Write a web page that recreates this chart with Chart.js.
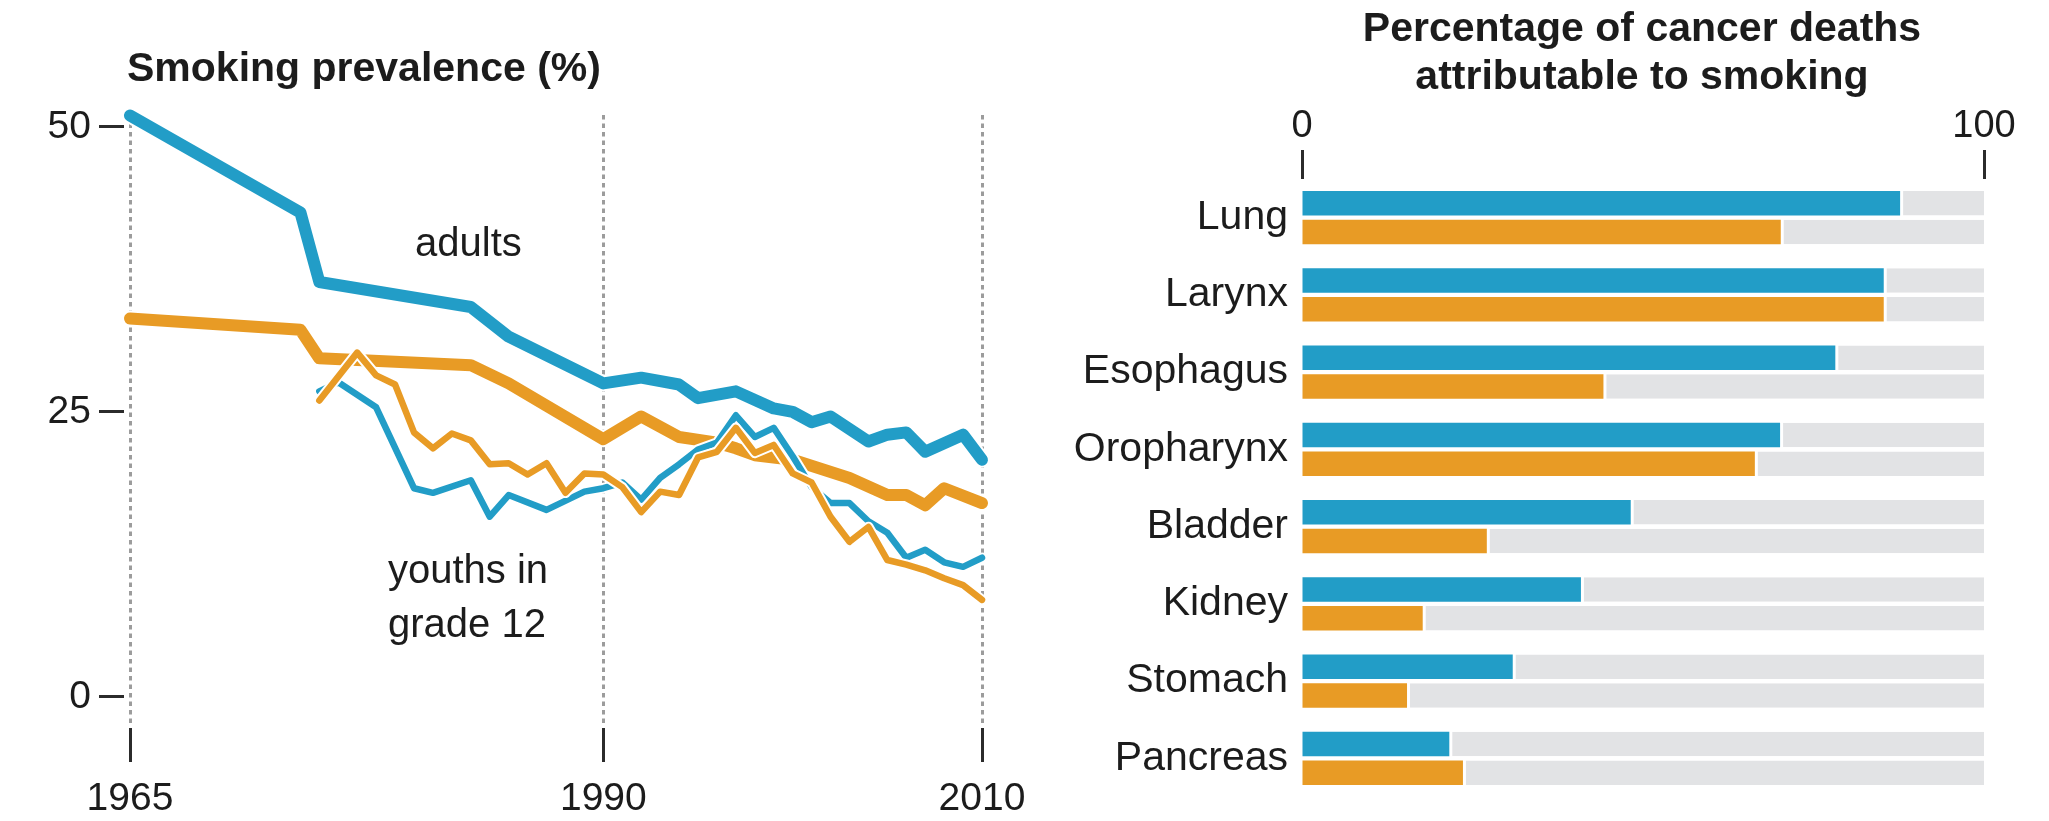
<!DOCTYPE html>
<html>
<head>
<meta charset="utf-8">
<script src="https://cdn.jsdelivr.net/npm/chart.js@4.4.1/dist/chart.umd.min.js"></script>
<style>
  html, body { margin: 0; padding: 0; background: #ffffff; }
  #wrap { position: relative; width: 2049px; height: 821px; overflow: hidden; }
  #left { position: absolute; left: 0; top: 0; width: 1040px; height: 821px; }
  #right { position: absolute; left: 1040px; top: 0; width: 1009px; height: 821px; }
</style>
</head>
<body>
<div id="wrap">
  <div id="left"><canvas id="trend"></canvas></div>
  <div id="right"><canvas id="share"></canvas></div>
</div>
<script>
// ---- Smoking prevalence (%) ----
const adultMenYears   = [1965, 1974, 1975, 1983, 1985, 1990, 1992, 1994, 1995, 1997, 1999, 2000, 2001, 2002, 2004, 2005, 2006, 2007, 2009, 2010];
const adultMenValues  = [51.0, 42.5, 36.4, 34.2, 31.6, 27.5, 28.0, 27.4, 26.2, 26.8, 25.3, 25.0, 24.1, 24.6, 22.4, 23.0, 23.2, 21.5, 23.0, 20.8];

const adultWomenYears  = [1965, 1974, 1975, 1983, 1985, 1990, 1992, 1994, 1996, 1997, 1998, 2000, 2003, 2005, 2006, 2007, 2008, 2010];
const adultWomenValues = [33.2, 32.2, 29.7, 29.1, 27.5, 22.6, 24.6, 22.8, 22.3, 21.8, 21.2, 20.8, 19.2, 17.7, 17.7, 16.8, 18.3, 17.0];

const youthMenYears  = [1975, 1976, 1978, 1980, 1981, 1983, 1984, 1985, 1987, 1989, 1990, 1991, 1992, 1993, 1994, 1995, 1996, 1997, 1998, 1999, 2000, 2001, 2002, 2003, 2004, 2005, 2006, 2007, 2008, 2009, 2010];
const youthMenValues = [26.8, 27.6, 25.4, 18.3, 17.9, 19.0, 15.8, 17.7, 16.4, 18.0, 18.3, 18.8, 17.3, 19.2, 20.4, 21.7, 22.3, 24.7, 22.8, 23.6, 21.1, 18.4, 17.0, 17.0, 15.4, 14.4, 12.2, 12.9, 11.8, 11.4, 12.2];

const youthWomenYears  = [1975, 1977, 1978, 1979, 1980, 1981, 1982, 1983, 1984, 1985, 1986, 1987, 1988, 1989, 1990, 1991, 1992, 1993, 1994, 1995, 1996, 1997, 1998, 1999, 2000, 2001, 2002, 2003, 2004, 2005, 2006, 2007, 2008, 2009, 2010];
const youthWomenValues = [26.0, 30.2, 28.2, 27.4, 23.2, 21.8, 23.1, 22.5, 20.4, 20.5, 19.5, 20.5, 17.9, 19.6, 19.5, 18.4, 16.2, 18.0, 17.7, 21.0, 21.5, 23.6, 21.4, 22.1, 19.6, 18.8, 15.8, 13.6, 14.9, 12.0, 11.6, 11.1, 10.4, 9.8, 8.5];

const yearTicks       = [1965, 1990, 2010];
const prevalenceTicks = [0, 25, 50];

// ---- Cancer deaths attributable to smoking (%) ----
const cancerSites  = ['Lung', 'Larynx', 'Esophagus', 'Oropharynx', 'Bladder', 'Kidney', 'Stomach', 'Pancreas'];
const menShare     = [87.7, 85.3, 78.2, 70.1, 48.2, 40.9, 30.9, 21.6];
const womenShare   = [70.2, 85.3, 44.2, 66.4, 27.1, 17.7, 15.4, 23.6];
const shareTicks   = [0, 100];

const BLUE   = '#229dc7';
const ORANGE = '#e89b25';
const TRACK  = '#e2e3e5';
const INK    = '#1c1c1c';
const TICK   = '#2b2b2b';
const FONT   = "'Liberation Sans', Arial, Helvetica, sans-serif";

// Free-standing text (titles and line labels) drawn on top of the chart
const captions = {
  id: 'captions',
  afterDraw(chart, args, opts) {
    const ctx = chart.ctx;
    ctx.save();
    ctx.fillStyle = INK;
    ctx.textBaseline = 'alphabetic';
    for (const it of (opts.items || [])) {
      ctx.font = it.font;
      ctx.textAlign = it.align || 'left';
      ctx.fillText(it.text, it.x, it.y);
    }
    ctx.restore();
  }
};

const pairs = (xs, ys) => xs.map((x, i) => ({ x, y: ys[i] }));

// Each series is drawn as a white halo underneath a coloured stroke
function lineSet(label, xs, ys, color, width, order) {
  return [
    { label: label + ' halo', data: pairs(xs, ys), borderColor: '#ffffff', borderWidth: width + 4, order: order + 0.5, clip: false },
    { label, data: pairs(xs, ys), borderColor: color, borderWidth: width, order, clip: false }
  ];
}

new Chart(document.getElementById('trend'), {
  type: 'line',
  data: {
    datasets: [
      ...lineSet('adults, men', adultMenYears, adultMenValues, BLUE, 12, 8),
      ...lineSet('adults, women', adultWomenYears, adultWomenValues, ORANGE, 12, 6),
      ...lineSet('grade 12, boys', youthMenYears, youthMenValues, BLUE, 6.5, 4),
      ...lineSet('grade 12, girls', youthWomenYears, youthWomenValues, ORANGE, 6.5, 2)
    ]
  },
  options: {
    responsive: true,
    maintainAspectRatio: false,
    animation: false,
    devicePixelRatio: 1,
    events: [],
    layout: { padding: { top: 115, right: 58, bottom: 0, left: 0 } },
    elements: {
      point: { radius: 0, hoverRadius: 0 },
      line: { tension: 0, borderCapStyle: 'round', borderJoinStyle: 'round', fill: false }
    },
    plugins: {
      legend: { display: false },
      tooltip: { enabled: false },
      captions: {
        items: [
          { text: 'Smoking prevalence (%)', x: 127, y: 81, font: 'bold 41px ' + FONT },
          { text: 'adults', x: 415, y: 256, font: '40px ' + FONT },
          { text: 'youths in', x: 388, y: 583, font: '40px ' + FONT },
          { text: 'grade 12', x: 388, y: 637, font: '40px ' + FONT }
        ]
      }
    },
    scales: {
      x: {
        type: 'linear',
        min: 1965,
        max: 2010,
        afterBuildTicks: s => { s.ticks = yearTicks.map(v => ({ value: v })); },
        afterFit: s => { s.height = 98; },
        grid: {
          color: '#9c9c9c', lineWidth: 3,
          drawTicks: true, tickLength: 39, tickColor: TICK, tickWidth: 3,
          tickBorderDash: [0, 5, 34, 100]
        },
        border: { display: false, dash: [4.5, 4] },
        ticks: {
          font: { family: FONT, size: 39 }, color: INK, padding: 14,
          autoSkip: false, maxRotation: 0, callback: v => String(v)
        }
      },
      y: {
        type: 'linear',
        min: -2.3,
        max: 51.05,
        afterBuildTicks: s => { s.ticks = prevalenceTicks.map(v => ({ value: v })); },
        afterFit: s => { s.width = 130; },
        grid: {
          drawOnChartArea: false, drawTicks: true, tickLength: 31,
          tickColor: TICK, tickWidth: 3, tickBorderDash: [25, 20]
        },
        border: { display: false },
        ticks: { font: { family: FONT, size: 39 }, color: INK, padding: 8, callback: v => String(v) }
      }
    }
  },
  plugins: [captions]
});

const trackStyle = {
  backgroundColor: TRACK,
  borderColor: '#ffffff',
  borderWidth: { left: 3, right: 0, top: 0, bottom: 0 },
  borderSkipped: false
};

new Chart(document.getElementById('share'), {
  type: 'bar',
  data: {
    labels: cancerSites,
    datasets: [
      { label: 'men', data: menShare, backgroundColor: BLUE, stack: 'men' },
      { label: 'men, other causes', data: menShare.map(v => 100 - v), stack: 'men', ...trackStyle },
      { label: 'women', data: womenShare, backgroundColor: ORANGE, stack: 'women' },
      { label: 'women, other causes', data: womenShare.map(v => 100 - v), stack: 'women', ...trackStyle }
    ]
  },
  options: {
    indexAxis: 'y',
    responsive: true,
    maintainAspectRatio: false,
    animation: false,
    devicePixelRatio: 1,
    events: [],
    layout: { padding: { top: 0, right: 65, bottom: 24, left: 0 } },
    datasets: { bar: { categoryPercentage: 0.75, barPercentage: 0.845 } },
    plugins: {
      legend: { display: false },
      tooltip: { enabled: false },
      captions: {
        items: [
          { text: 'Percentage of cancer deaths', x: 602, y: 41, align: 'center', font: 'bold 41px ' + FONT },
          { text: 'attributable to smoking', x: 602, y: 89, align: 'center', font: 'bold 41px ' + FONT }
        ]
      }
    },
    scales: {
      x: {
        type: 'linear',
        position: 'top',
        stacked: true,
        min: 0,
        max: 100,
        afterBuildTicks: s => { s.ticks = shareTicks.map(v => ({ value: v })); },
        afterFit: s => { s.height = 179; },
        grid: { drawOnChartArea: false, drawTicks: true, tickLength: 29, tickColor: TICK, tickWidth: 3 },
        border: { display: false },
        ticks: { font: { family: FONT, size: 38 }, color: INK, padding: 1, maxRotation: 0, callback: v => String(v) }
      },
      y: {
        type: 'category',
        afterFit: s => { s.width = 262; s.paddingTop = 0; s.paddingBottom = 0; },
        grid: { display: false, drawTicks: false },
        border: { display: false },
        ticks: { font: { family: FONT, size: 41 }, color: INK, padding: 14 }
      }
    }
  },
  plugins: [captions]
});
</script>
</body>
</html>
